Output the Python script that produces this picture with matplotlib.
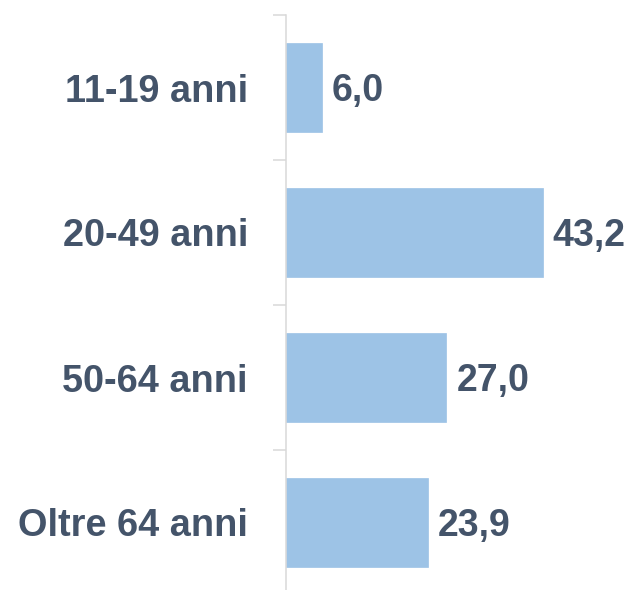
import numpy as np
import matplotlib.pyplot as plt

# dati
categorie = ['11-19 anni', '20-49 anni', '50-64 anni', 'Oltre 64 anni']
valori = [6.0, 43.2, 27.0, 23.9]
etichette = ['6,0', '43,2', '27,0', '23,9']

plt.rcParams['font.family'] = ['Liberation Sans', 'DejaVu Sans']
testo = '#44546A'
barra = '#9DC3E6'
griglia = '#D9D9D9'

fig = plt.figure(figsize=(6.3, 5.9), dpi=100)
# asse: da x=286px, dall'alto y=15px a y=595px (oltre il bordo)
ax = fig.add_axes([286 / 630, -5 / 590, 344 / 630, 580 / 590])

y = np.arange(len(categorie))
ax.barh(y, valori, height=0.607, color=barra, edgecolor=barra, linewidth=0.5)

ax.set_xlim(0, 344 / 5.94)
ax.set_ylim(len(categorie) - 0.5, -0.5)

# etichette dei valori
for yi, v, t in zip(y, valori, etichette):
    ax.text(v + 10 / 5.94, yi + 0.025, t, va='center', ha='left',
            fontsize=27, fontweight='bold', color=testo)

# asse verticale con tacche tra le categorie
for s in ['top', 'right', 'bottom']:
    ax.spines[s].set_visible(False)
ax.spines['left'].set_color(griglia)
ax.spines['left'].set_linewidth(1.1)
ax.set_xticks([])
ax.set_yticks(y)
ax.set_yticklabels(categorie, fontsize=27.3, fontweight='bold', color=testo)
ax.tick_params(axis='y', which='major', length=0, pad=27.4)
ax.set_yticks(np.arange(-0.5, len(categorie) + 0.5, 1), minor=True)
ax.tick_params(axis='y', which='minor', length=9.4, width=1.1, color=griglia)

plt.savefig('out.png', dpi=100)
